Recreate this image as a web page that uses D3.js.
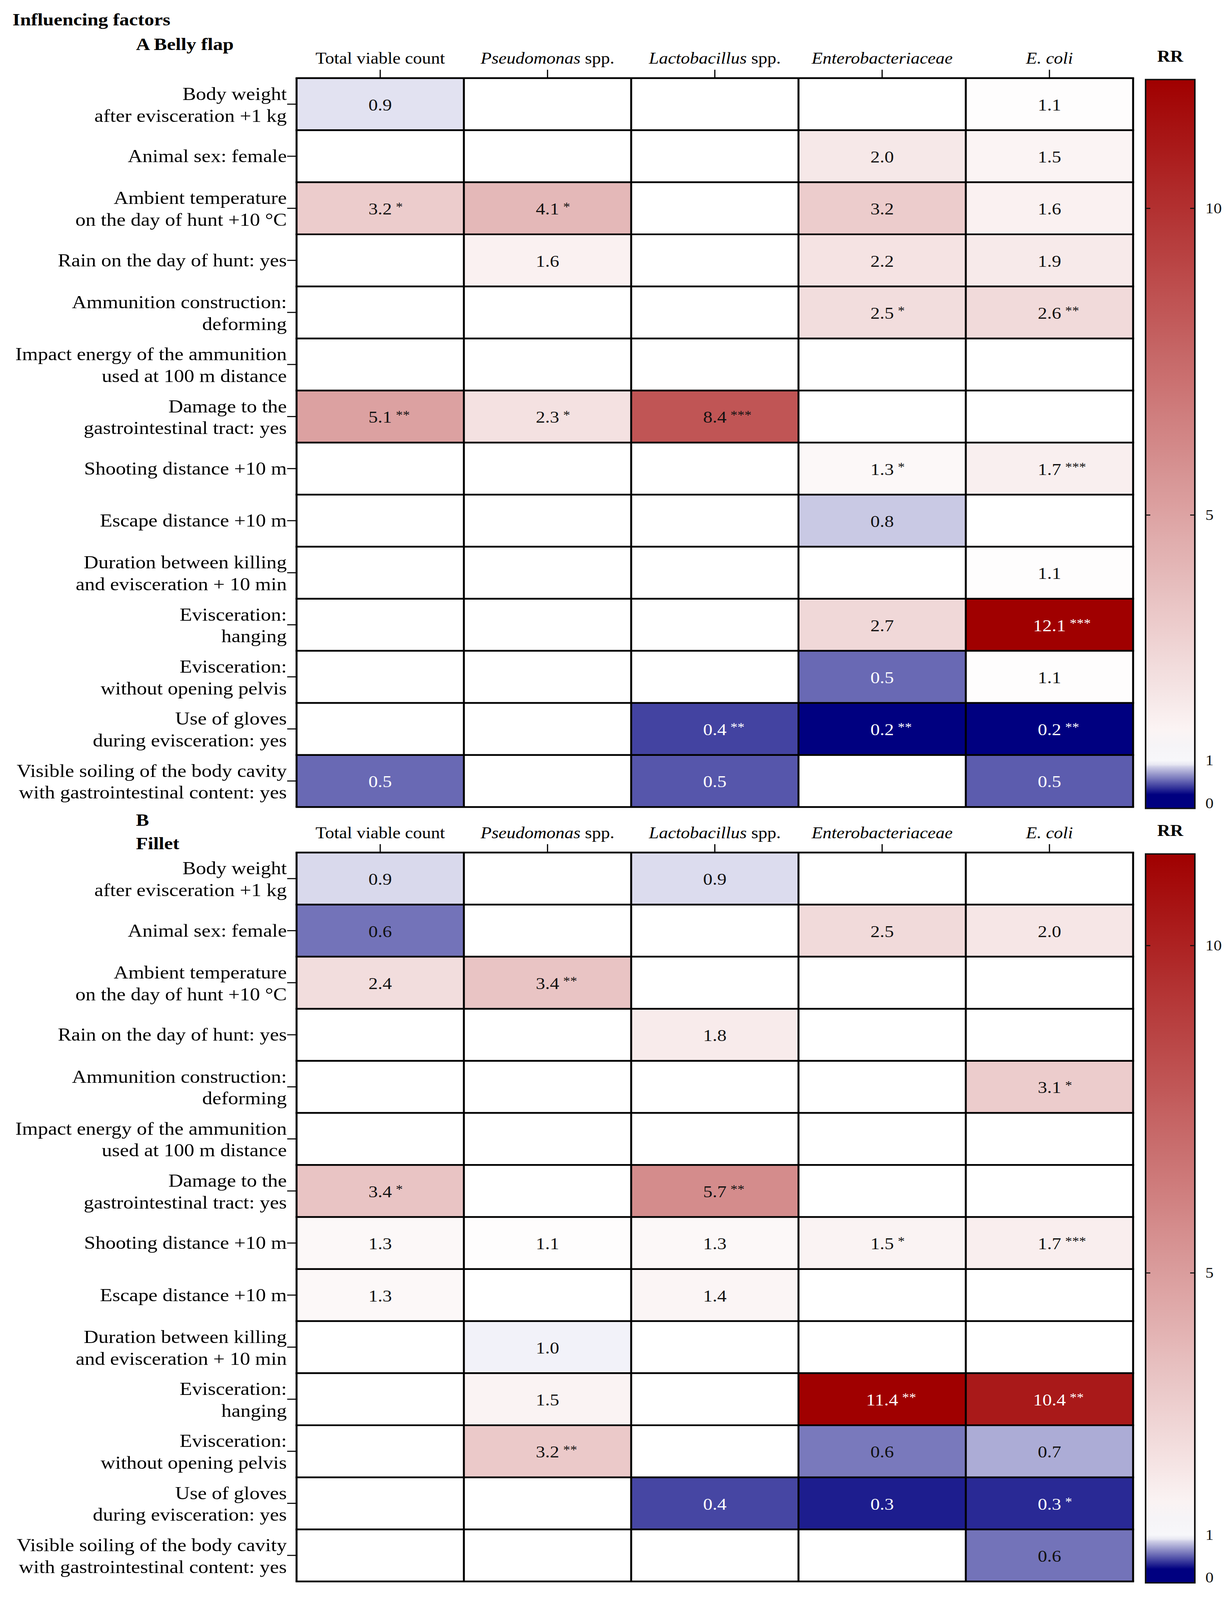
<!DOCTYPE html>
<html>
<head>
<meta charset="utf-8">
<script src="https://cdn.jsdelivr.net/npm/d3@7"></script>
<style>
  html, body { margin: 0; height: 100%; background: #fff; overflow: hidden; }
  svg { display: block; width: 100vw; height: 100vh; font-family: "Liberation Serif", "Times New Roman", serif; }
</style>
</head>
<body>
<svg id="chart" viewBox="0 0 3148 4566" preserveAspectRatio="none"></svg>
<script>
// ---- data ----
const columns = ["tvc", "pseudo", "lacto", "entero", "ecoli"];
const columnLabels = [
  [{ t: "Total viable count" }],
  [{ t: "Pseudomonas", i: true }, { t: " spp." }],
  [{ t: "Lactobacillus", i: true }, { t: " spp." }],
  [{ t: "Enterobacteriaceae", i: true }],
  [{ t: "E. coli", i: true }]
];

const rowLabels = [
  ["Body weight", "after evisceration +1 kg"],
  ["Animal sex: female"],
  ["Ambient temperature", "on the day of hunt +10 \u00B0C"],
  ["Rain on the day of hunt: yes"],
  ["Ammunition construction:", "deforming"],
  ["Impact energy of the ammunition", "used at 100 m distance"],
  ["Damage to the", "gastrointestinal tract: yes"],
  ["Shooting distance +10 m"],
  ["Escape distance +10 m"],
  ["Duration between killing", "and evisceration + 10 min"],
  ["Evisceration:", "hanging"],
  ["Evisceration:", "without opening pelvis"],
  ["Use of gloves", "during evisceration: yes"],
  ["Visible soiling of the body cavity", "with gastrointestinal content: yes"]
];

// relative risk (RR), null = not in model; one row per factor, columns as above
const bellyValues = [
  [0.91, null, null, null, 1.1],
  [null, null, null, 2.0, 1.5],
  [3.2, 4.1, null, 3.2, 1.6],
  [null, 1.6, null, 2.2, 1.9],
  [null, null, null, 2.5, 2.6],
  [null, null, null, null, null],
  [5.1, 2.3, 8.4, null, null],
  [null, null, null, 1.3, 1.7],
  [null, null, null, 0.83, null],
  [null, null, null, null, 1.1],
  [null, null, null, 2.7, 12.1],
  [null, null, null, 0.53, 1.1],
  [null, null, 0.41, 0.2, 0.2],
  [0.53, null, 0.47, null, 0.49]
];
const bellySig = [
  ["", "", "", "", ""],
  ["", "", "", "", ""],
  ["*", "*", "", "", ""],
  ["", "", "", "", ""],
  ["", "", "", "*", "**"],
  ["", "", "", "", ""],
  ["**", "*", "***", "", ""],
  ["", "", "", "*", "***"],
  ["", "", "", "", ""],
  ["", "", "", "", ""],
  ["", "", "", "", "***"],
  ["", "", "", "", ""],
  ["", "", "**", "**", "**"],
  ["", "", "", "", ""]
];

const filletValues = [
  [0.88, null, 0.89, null, null],
  [0.56, null, null, 2.5, 2.0],
  [2.4, 3.4, null, null, null],
  [null, null, 1.8, null, null],
  [null, null, null, null, 3.1],
  [null, null, null, null, null],
  [3.4, null, 5.7, null, null],
  [1.3, 1.1, 1.3, 1.5, 1.7],
  [1.3, null, 1.4, null, null],
  [null, 0.96, null, null, null],
  [null, 1.5, null, 11.4, 10.4],
  [null, 3.2, null, 0.58, 0.74],
  [null, null, 0.42, 0.29, 0.33],
  [null, null, null, null, 0.56]
];
const filletSig = [
  ["", "", "", "", ""],
  ["", "", "", "", ""],
  ["", "**", "", "", ""],
  ["", "", "", "", ""],
  ["", "", "", "", "*"],
  ["", "", "", "", ""],
  ["*", "", "**", "", ""],
  ["", "", "", "*", "***"],
  ["", "", "", "", ""],
  ["", "", "", "", ""],
  ["", "", "", "**", "**"],
  ["", "**", "", "", ""],
  ["", "", "", "", "*"],
  ["", "", "", "", ""]
];

const colorbarLabels = [0, 1, 5, 10];
const colorbarTicks = [5, 10];

// ---- layout ----
const svg = d3.select("#chart");
const gridLeft = 759, gridRight = 2900, panelHeight = 2080;
const barX = 2932, barW = 126;

svg.append("text").attr("x", 32).attr("y", 73)
  .attr("font-size", 50).attr("font-weight", "bold").text("Influencing factors");

const panels = [
  { id: "A", top: 223, titles: [["A Belly flap", 143]], values: bellyValues, sig: bellySig },
  { id: "B", top: 2433, titles: [["B", 2357], ["Fillet", 2423]], values: filletValues, sig: filletSig }
];

panels.forEach(p => {
  const g = svg.append("g");
  const vmax = d3.max(p.values.flat());
  const color = d3.scaleLinear()
    .domain([0.2, 1, vmax])
    .range(["#000080", "#ffffff", "#a00000"])
    .clamp(true);

  const x = d3.scaleBand().domain(columns).range([gridLeft, gridRight]);
  const y = d3.scaleBand().domain(d3.range(rowLabels.length)).range([p.top, p.top + panelHeight]);

  p.titles.forEach(([t, yy]) => {
    g.append("text").attr("x", 348).attr("y", yy)
      .attr("font-size", 50).attr("font-weight", "bold").text(t);
  });

  // cells
  const cells = [];
  p.values.forEach((row, r) => row.forEach((v, c) => {
    cells.push({ r, c, v, s: p.sig[r][c] });
  }));

  g.selectAll("rect.cell").data(cells).enter().append("rect")
    .attr("class", "cell")
    .attr("x", d => x(columns[d.c]))
    .attr("y", d => y(d.r))
    .attr("width", x.bandwidth())
    .attr("height", y.bandwidth())
    .attr("fill", d => d.v == null ? "#ffffff" : color(d.v));

  // grid lines
  const xs = columns.map(c => x(c)).concat([gridRight]);
  const ys = y.domain().map(r => y(r)).concat([p.top + panelHeight]);
  g.selectAll("line.v").data(xs).enter().append("line")
    .attr("x1", d => d).attr("x2", d => d)
    .attr("y1", p.top).attr("y2", p.top + panelHeight)
    .attr("stroke", "#000").attr("stroke-width", 5);
  g.selectAll("line.h").data(ys).enter().append("line")
    .attr("x1", gridLeft - 2.5).attr("x2", gridRight + 2.5)
    .attr("y1", d => d).attr("y2", d => d)
    .attr("stroke", "#000").attr("stroke-width", 5);

  // value labels
  const filled = cells.filter(d => d.v != null);
  const txt = g.selectAll("g.val").data(filled).enter().append("g").attr("class", "val");
  txt.each(function(d) {
    const cx = x(columns[d.c]) + x.bandwidth() / 2;
    const by = y(d.r) + y.bandwidth() / 2 + 18;
    const fill = (d.v < 0.55 || d.v > 9) ? "#fff" : "#111";
    const n = d3.select(this).append("text")
      .attr("x", cx).attr("y", by)
      .attr("text-anchor", "middle").attr("font-size", 48)
      .attr("fill", fill).text(d.v.toFixed(1));
    if (d.s) {
      const w = n.node().getComputedTextLength();
      d3.select(this).append("text")
        .attr("x", cx + w / 2 + 10).attr("y", by - 11)
        .attr("font-size", 36).attr("fill", fill).text(d.s);
    }
  });

  // column axis
  const xAxis = g.append("g").attr("transform", `translate(0,${p.top - 2})`)
    .call(d3.axisTop(x).tickSize(22).tickFormat(""));
  xAxis.select(".domain").remove();
  xAxis.selectAll(".tick line").attr("stroke", "#000").attr("stroke-width", 3);

  const heads = g.selectAll("text.head").data(columnLabels).enter().append("text")
    .attr("class", "head")
    .attr("x", (d, i) => x(columns[i]) + x.bandwidth() / 2)
    .attr("y", p.top - 41)
    .attr("text-anchor", "middle").attr("font-size", 46);
  heads.selectAll("tspan").data(d => d).enter().append("tspan")
    .attr("font-style", d => d.i ? "italic" : "normal")
    .text(d => d.t);

  // row axis
  const yAxis = g.append("g").attr("transform", `translate(${gridLeft - 2},0)`)
    .call(d3.axisLeft(y).tickSize(22).tickFormat(""));
  yAxis.select(".domain").remove();
  yAxis.selectAll(".tick line").attr("stroke", "#000").attr("stroke-width", 3);

  const rl = g.selectAll("text.rowlab").data(rowLabels).enter().append("text")
    .attr("class", "rowlab")
    .attr("text-anchor", "end").attr("font-size", 52);
  rl.each(function(lines, r) {
    const cy = y(r) + y.bandwidth() / 2;
    const offs = lines.length === 1 ? [17] : [-12, 50];
    d3.select(this).selectAll("tspan").data(lines).enter().append("tspan")
      .attr("x", gridLeft - 25)
      .attr("y", (d, i) => cy + offs[i])
      .text(d => d);
  });

  // colorbar
  const barTop = p.top + 4, barBottom = p.top + 2084;
  const cb = d3.scaleLinear()
    .domain([0, 1, vmax])
    .range([barBottom - 15, barBottom - 137, barTop]);
  const gradId = "grad" + p.id;
  const grad = svg.append("defs").append("linearGradient")
    .attr("id", gradId).attr("x1", 0).attr("y1", 1).attr("x2", 0).attr("y2", 0);
  const stopVals = [0].concat(d3.range(0, 1.0001, 0.05), d3.range(1, vmax, 0.25), [vmax]);
  grad.selectAll("stop").data(stopVals).enter().append("stop")
    .attr("offset", (d, i) => i === 0 ? 0 : (barBottom - cb(d)) / (barBottom - barTop))
    .attr("stop-color", d => d >= 0.9 && d <= 1.3 ? d3.interpolateRgb(color(d), "#eeeef4")(0.5) : color(d));

  g.append("rect")
    .attr("x", barX).attr("y", barTop)
    .attr("width", barW).attr("height", barBottom - barTop)
    .attr("fill", `url(#${gradId})`)
    .attr("stroke", "#111").attr("stroke-width", 4);

  g.selectAll("line.cbl").data(colorbarTicks).enter().append("line")
    .attr("x1", barX).attr("x2", barX + 12)
    .attr("y1", d => cb(d)).attr("y2", d => cb(d))
    .attr("stroke", "#111").attr("stroke-width", 3);
  g.selectAll("line.cbr").data(colorbarTicks).enter().append("line")
    .attr("x1", barX + barW - 12).attr("x2", barX + barW)
    .attr("y1", d => cb(d)).attr("y2", d => cb(d))
    .attr("stroke", "#111").attr("stroke-width", 3);

  const cAxis = g.append("g").attr("transform", `translate(${barX + barW},0)`)
    .call(d3.axisRight(cb).tickValues(colorbarLabels).tickSize(0).tickPadding(27).tickFormat(d3.format("d")));
  cAxis.select(".domain").remove();
  cAxis.selectAll("text").attr("font-size", 42)
    .attr("font-family", "Liberation Serif, serif").attr("fill", "#111");

  g.append("text").attr("x", barX + barW / 2).attr("y", p.top - 47)
    .attr("text-anchor", "middle").attr("font-size", 46).attr("font-weight", "bold").text("RR");
});
</script>
</body>
</html>
